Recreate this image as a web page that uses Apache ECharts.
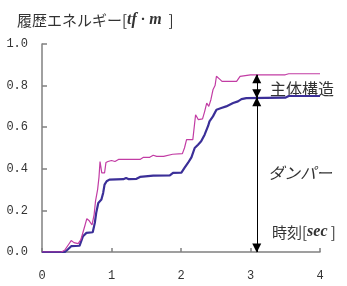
<!DOCTYPE html>
<html>
<head>
<meta charset="utf-8">
<script src="https://cdn.jsdelivr.net/npm/echarts@6/dist/echarts.min.js"></script>
<style>
html, body { margin: 0; padding: 0; background: #fff; }
#chart { width: 347px; height: 286px; }
</style>
</head>
<body>
<div id="chart"></div>
<script>
// 時刻 [sec]
var timeTotal = [0, 0.28, 0.33, 0.38, 0.42, 0.46, 0.52, 0.56, 0.59, 0.62, 0.645, 0.68, 0.72, 0.75, 0.77, 0.80, 0.82, 0.835, 0.86, 0.90, 0.92, 0.95, 1.00, 1.05, 1.10, 1.17, 1.41, 1.46, 1.55, 1.60, 1.65, 1.75, 1.88, 2.02, 2.05, 2.08, 2.17, 2.21, 2.25, 2.31, 2.34, 2.37, 2.40, 2.43, 2.46, 2.49, 2.51, 2.53, 2.56, 2.59, 2.80, 2.85, 3.00, 3.50, 3.55, 4.00];
// 全体(主体構造+ダンパー) 履歴エネルギー [tf・m]
var energyTotal = [0, 0, 0.01, 0.035, 0.055, 0.045, 0.04, 0.06, 0.095, 0.13, 0.16, 0.15, 0.13, 0.18, 0.245, 0.30, 0.36, 0.435, 0.38, 0.38, 0.43, 0.435, 0.44, 0.435, 0.445, 0.445, 0.445, 0.455, 0.455, 0.465, 0.46, 0.46, 0.47, 0.473, 0.50, 0.54, 0.54, 0.66, 0.636, 0.64, 0.675, 0.716, 0.70, 0.732, 0.78, 0.80, 0.845, 0.852, 0.83, 0.82, 0.82, 0.844, 0.852, 0.852, 0.857, 0.857];

var timeDamper = [0, 0.33, 0.37, 0.42, 0.54, 0.59, 0.64, 0.73, 0.76, 0.78, 0.81, 0.855, 0.88, 0.90, 0.93, 0.97, 1.17, 1.21, 1.25, 1.36, 1.41, 1.60, 1.84, 1.885, 2.006, 2.05, 2.10, 2.15, 2.197, 2.245, 2.29, 2.34, 2.39, 2.41, 2.46, 2.51, 2.58, 2.65, 2.75, 2.82, 2.87, 2.94, 3.50, 3.55, 4.00];
// ダンパー 履歴エネルギー
var energyDamper = [0, 0, 0.012, 0.028, 0.03, 0.076, 0.092, 0.095, 0.14, 0.188, 0.236, 0.252, 0.284, 0.324, 0.34, 0.348, 0.35, 0.356, 0.35, 0.352, 0.361, 0.367, 0.368, 0.38, 0.382, 0.404, 0.428, 0.455, 0.50, 0.516, 0.532, 0.564, 0.606, 0.628, 0.652, 0.684, 0.692, 0.70, 0.716, 0.724, 0.735, 0.74, 0.742, 0.75, 0.75];

// 矢印 (時刻, 全体 / ダンパー / 0)
var arrowTime = 3.09;
var arrowLevels = [0.852, 0.742, 0];

var xTicks = [0, 1, 2, 3, 4];
var yTicks = [0, 0.2, 0.4, 0.6, 0.8, 1.0];

function pairs(xs, ys) {
	var out = [];
	for (var i = 0; i < xs.length; i++) {
		out.push([xs[i], ys[i]]);
	}
	return out;
}

var myChart = echarts.init(document.getElementById('chart'));
var jpFont = '"Noto Sans CJK JP", sans-serif';
var numFont = '"Liberation Mono", monospace';

var option = {
	animation: false,
	title: {
		left: 12,
		top: 7,
		text: '{a|履歴エネルギー[}{b|tf}{c| · }{b|m}{a|  ]}',
		textStyle: {
			fontWeight: 'normal',
			rich: {
				a: { fontFamily: jpFont, fontSize: 15, fontWeight: 'normal', color: '#333' },
				b: { fontFamily: '"Liberation Serif", serif', fontStyle: 'italic', fontWeight: 'bold', fontSize: 16, color: '#333' },
				c: { fontFamily: '"Liberation Serif", serif', fontWeight: 'bold', fontSize: 15, color: '#333' }
			}
		}
	},
	grid: {
		left: 42,
		right: 27,
		top: 44,
		bottom: 34,
		containLabel: false,
		outerBoundsMode: 'none'
	},
	xAxis: {
		type: 'value',
		min: xTicks[0],
		max: xTicks[xTicks.length - 1],
		interval: 1,
		axisLine: { lineStyle: { color: '#808080', width: 1.5 } },
		axisTick: { inside: true, length: 4, lineStyle: { color: '#808080', width: 1.5 } },
		axisLabel: { margin: 18, fontFamily: numFont, fontSize: 12, color: '#333' },
		splitLine: { show: false }
	},
	yAxis: {
		type: 'value',
		min: yTicks[0],
		max: yTicks[yTicks.length - 1],
		interval: 0.2,
		axisLine: { show: true, lineStyle: { color: '#808080', width: 1.5 } },
		axisTick: { show: true, inside: true, length: 5, lineStyle: { color: '#808080', width: 1.5 } },
		axisLabel: {
			margin: 14,
			fontFamily: numFont,
			fontSize: 12,
			color: '#333',
			formatter: function (v) { return v.toFixed(1); }
		},
		splitLine: { show: false }
	},
	series: [
		{
			name: 'ダンパー',
			type: 'line',
			data: pairs(timeDamper, energyDamper),
			showSymbol: false,
			lineStyle: { color: '#3b2f98', width: 2.2 },
			z: 2,
			markLine: {
				silent: true,
				symbol: ['triangle', 'triangle'],
				symbolSize: [9, 9],
				symbolOffset: [[0, 4], [0, 4]],
				label: { show: false },
				lineStyle: { color: '#000', width: 1, type: 'solid' },
				data: [
					[{ coord: [arrowTime, arrowLevels[0]] }, { coord: [arrowTime, arrowLevels[1]] }],
					[{ coord: [arrowTime, arrowLevels[1]] }, { coord: [arrowTime, arrowLevels[2]] }]
				]
			}
		},
		{
			name: '全体',
			type: 'line',
			data: pairs(timeTotal, energyTotal),
			showSymbol: false,
			lineStyle: { color: '#c23ca4', width: 1.2 },
			z: 3
		}
	],
	graphic: [
		{ type: 'text', left: 270, top: 81, style: { text: '主体構造', font: '16px ' + jpFont, fill: '#333' } },
		{ type: 'text', left: 268, top: 165, style: { text: 'ダンパー', font: 'italic 16px ' + jpFont, fill: '#333' } },
		{
			type: 'text', left: 272, top: 224,
			style: {
				text: '{a|時刻[}{b|sec}{a| ]}',
				rich: {
					a: { fontFamily: jpFont, fontSize: 15, fill: '#333' },
					b: { fontFamily: '"Liberation Serif", serif', fontStyle: 'italic', fontWeight: 'bold', fontSize: 16, fill: '#333' }
				}
			}
		}
	]
};

myChart.setOption(option);
</script>
</body>
</html>
